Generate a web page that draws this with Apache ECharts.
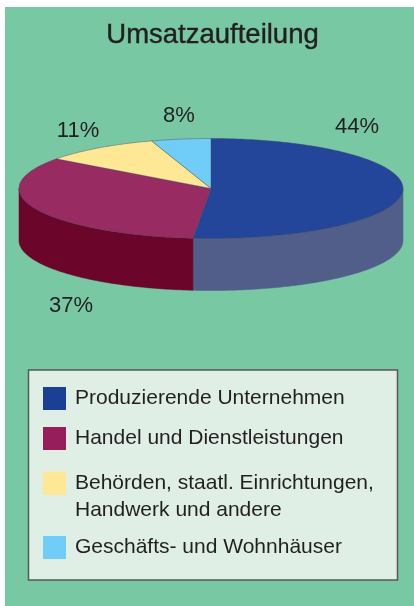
<!DOCTYPE html>
<html>
<head>
<meta charset="utf-8">
<style>
  html, body { margin: 0; background: #fff; }
  #chart { width: 414px; height: 606px; }
</style>
<script src="https://cdn.jsdelivr.net/npm/echarts@6/dist/echarts.min.js"></script>
</head>
<body>
<div id="chart"></div>
<script>
// printed labels
var shareLabels = ['44%', '37%', '11%', '8%'];
// size of the slices as actually drawn in the picture (they don't follow the printed labels)
var sliceValues = [51.5, 33.6, 9.9, 5.0];
var categories = [
  'Produzierende Unternehmen',
  'Handel und Dienstleistungen',
  'Behörden, staatl. Einrichtungen,\nHandwerk und andere',
  'Geschäfts- und Wohnhäuser'
];

var topColors = ['#23459a', '#982b62', '#ffe895', '#6fcdf7'];
var sideColors = ['#515e8a', '#6b0529', '#ffe895', '#6fcdf7'];
var legendColors = ['#1c3f96', '#961f5b', '#ffe895', '#6fcdf7'];
var legendTops = [387, 427, 472, 536];
var legendTextNudge = [1, 2, 2, 4];
var labelSpots = [[357, 127], [71, 306], [78, 131], [179, 116]];

var pie = { cx: 211, cy: 188.5, rx: 192, ry: 50, depth: 52 };
var textColor = '#231f20';
var font = '"Liberation Sans", Arial, sans-serif';

var total = sliceValues.reduce(function (a, b) { return a + b; }, 0);

function angleAt(i) {
  var sum = 0;
  for (var k = 0; k < i; k++) sum += sliceValues[k];
  return sum / total * 360;
}

function rimPoint(deg, drop) {
  var r = deg * Math.PI / 180;
  return [pie.cx + pie.rx * Math.sin(r), pie.cy - pie.ry * Math.cos(r) + drop];
}

function arc(from, to, drop) {
  var pts = [];
  for (var a = from; a < to; a += 1) pts.push(rimPoint(a, drop));
  pts.push(rimPoint(to, drop));
  return pts;
}

function renderSlice(i) {
  return function () {
    var from = angleAt(i), to = angleAt(i + 1);
    var children = [];
    // only the front half of the rim is visible (90..270 deg)
    var sideFrom = Math.max(from, 90), sideTo = Math.min(to, 270);
    if (sideFrom < sideTo) {
      children.push({
        type: 'polygon',
        shape: { points: arc(sideFrom, sideTo, 0).concat(arc(sideFrom, sideTo, pie.depth).reverse()) },
        style: { fill: sideColors[i], stroke: sideColors[i], lineWidth: 0.5 }
      });
    }
    children.push({
      type: 'polygon',
      z2: 10,
      shape: { points: [[pie.cx, pie.cy]].concat(arc(from, to, 0)) },
      style: { fill: topColors[i], stroke: 'rgba(70,70,85,0.7)', lineWidth: 0.6 }
    });
    children.push({
      type: 'text',
      z2: 20,
      x: labelSpots[i][0],
      y: labelSpots[i][1],
      style: {
        text: shareLabels[i], fill: textColor, font: '22px ' + font,
        align: 'center', verticalAlign: 'middle'
      }
    });
    return { type: 'group', children: children };
  };
}

var chart = echarts.init(document.getElementById('chart'), null, { renderer: 'canvas' });

chart.setOption({
  animation: false,
  backgroundColor: '#fff',
  title: {
    text: 'Umsatzaufteilung',
    left: 212.5,
    top: 21,
    textAlign: 'center',
    padding: 0,
    textStyle: {
      color: textColor, fontFamily: font, fontSize: 27.5, fontWeight: 'normal',
      textBorderColor: textColor, textBorderWidth: 0.4
    }
  },
  legend: categories.map(function (name, i) {
    return {
      left: 43,
      top: legendTops[i],
      padding: 0,
      itemWidth: 23,
      itemHeight: 23,
      itemGap: 0,
      selectedMode: false,
      data: [{ name: name, icon: 'rect', itemStyle: { color: legendColors[i] } }],
      formatter: function (n) { return n.split('\n')[0]; },
      textStyle: { color: textColor, fontFamily: font, fontSize: 21, padding: [legendTextNudge[i], 0, 0, 4] }
    };
  }),
  graphic: [
    { type: 'rect', z: -2, shape: { x: 5, y: 7, width: 409, height: 599 }, style: { fill: '#79c8a4' } },
    {
      type: 'rect', z: -1,
      shape: { x: 28.5, y: 370, width: 369, height: 210 },
      style: { fill: '#dfefe6', stroke: '#55585a', lineWidth: 1.5 }
    },
    {
      type: 'text', z: 5, x: 75, y: 510,
      style: {
        text: categories[2].split('\n')[1], fill: textColor, font: '21px ' + font,
        verticalAlign: 'middle'
      }
    }
  ],
  series: categories.map(function (name, i) {
    return {
      type: 'custom',
      name: name,
      coordinateSystem: 'none',
      renderItem: renderSlice(i),
      data: [sliceValues[i]],
      silent: true
    };
  })
});
</script>
</body>
</html>
